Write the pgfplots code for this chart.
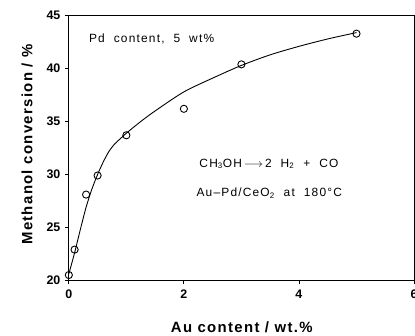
\documentclass[border=0pt]{standalone}
\usepackage{fontspec}
\setmainfont{Liberation Sans}
\newfontfamily\lblfont[LetterSpace=9]{Liberation Sans}
\newfontfamily\annfont[LetterSpace=10,WordSpace=2]{Liberation Sans}
\usepackage{pgfplots}
\pgfplotsset{compat=1.18}
\begin{document}
\begin{tikzpicture}
\useasboundingbox (-69bp,-55bp) rectangle (347bp,281bp);
\clip (-69bp,-55bp) rectangle (347bp,281bp);
\begin{axis}[
  scale only axis,
  width=346bp, height=265.3bp,
  xmin=0, xmax=6, ymin=20, ymax=45,
  xtick={0,2,4,6}, ytick={20,25,30,35,40,45},
  tick align=outside,
  xtick pos=bottom, ytick pos=left,
  major tick length=4bp,
  axis line style={line width=1pt},
  tick style={black, line width=0.8pt},
  /pgf/number format/assume math mode=true,
  ticklabel style={font=\fontsize{12.5}{14}\selectfont\bfseries},
  xticklabel style={yshift=-2bp},
  yticklabel style={xshift=-1bp},
  xlabel={\lblfont\bfseries Au content / wt.\%},
  ylabel={\lblfont\bfseries Methanol conversion / \%},
  label style={font=\fontsize{15}{17}\selectfont},
  xlabel style={at={(axis description cs:0.501,-0.177)}, anchor=center},
  ylabel style={at={(axis description cs:-0.121,0.513)}, anchor=center, rotate=0},
  clip=false,
]
\addplot[black, line width=0.9pt, smooth, tension=0.5] coordinates {
(0,20.6)(0.1,22.6)(0.2,24.8)(0.3,26.9)(0.4,28.6)(0.5,30.0)(0.6,31.2)(0.7,32.2)(0.8,32.9)(0.9,33.4)(1.0,33.9)(1.25,35.0)(1.5,36.0)(2.0,37.8)(2.5,39.1)(3.0,40.3)(3.5,41.3)(4.0,42.1)(4.5,42.8)(5.0,43.4)
};
\addplot[only marks, mark=o, mark size=3.6bp, black, line width=0.9pt] coordinates {
(0,20.5)(0.1,22.9)(0.3,28.1)(0.5,29.9)(1,33.7)(2,36.2)(3,40.4)(5,43.3)
};
\node[anchor=west, font=\fontsize{12}{14}\selectfont\annfont] at (axis cs:0.29,42.8) {Pd content, 5 wt\%};
\node[anchor=west, font=\fontsize{12}{14}\selectfont\annfont] at (axis cs:2.21,31.0) {CH\textsubscript{3}OH\,$\longrightarrow$\,2 H\textsubscript{2} + CO};
\node[anchor=west, font=\fontsize{12}{14}\selectfont\annfont] at (axis cs:2.16,28.2) {Au–Pd/CeO\textsubscript{2} at 180°C};
\end{axis}
\end{tikzpicture}
\end{document}
